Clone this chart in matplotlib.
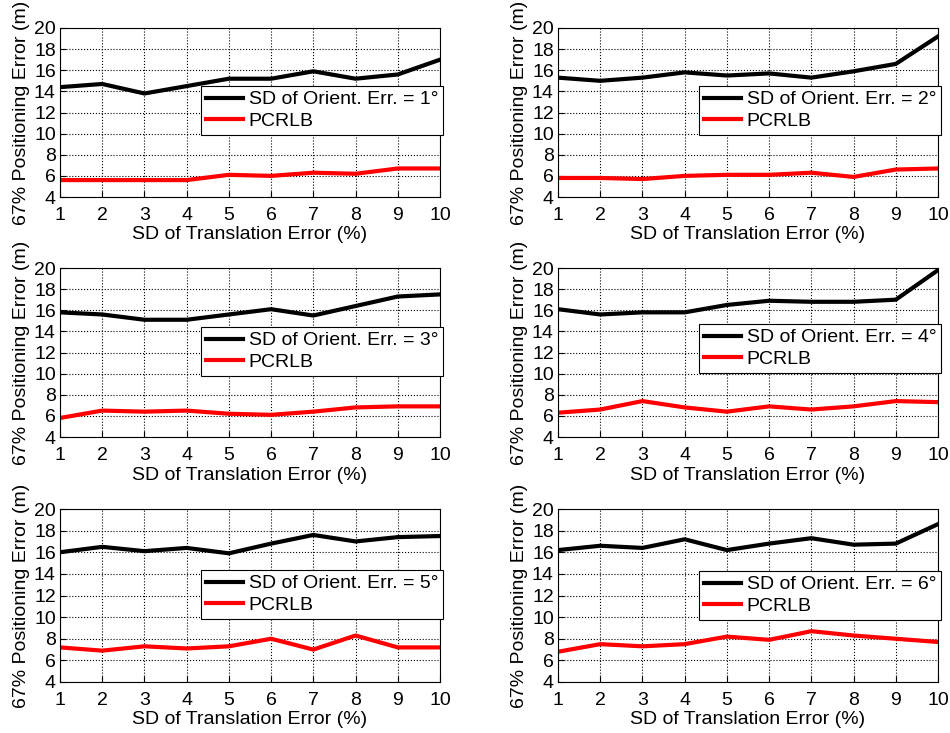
import matplotlib
matplotlib.use('Agg')
from matplotlib import pyplot as plt

plt.rcParams['font.family'] = ['Liberation Sans', 'DejaVu Sans']

# SD of translation error (%)
trans_err = [1, 2, 3, 4, 5, 6, 7, 8, 9, 10]

# SD of orientation error (deg), one panel each
orient_err = [1, 2, 3, 4, 5, 6]

# 67% positioning error (m) from the filter
err_1 = [14.4, 14.7, 13.8, 14.5, 15.2, 15.2, 15.9, 15.2, 15.6, 17.0]
err_2 = [15.3, 15.0, 15.3, 15.8, 15.5, 15.7, 15.3, 15.9, 16.6, 19.2]
err_3 = [15.8, 15.6, 15.1, 15.1, 15.6, 16.1, 15.5, 16.4, 17.3, 17.5]
err_4 = [16.1, 15.6, 15.8, 15.8, 16.5, 16.9, 16.8, 16.8, 17.0, 19.8]
err_5 = [16.0, 16.5, 16.1, 16.4, 15.9, 16.8, 17.6, 17.0, 17.4, 17.5]
err_6 = [16.2, 16.6, 16.4, 17.2, 16.2, 16.8, 17.3, 16.7, 16.8, 18.6]

# 67% positioning error (m) given by the PCRLB
pcrlb_1 = [5.6, 5.6, 5.6, 5.6, 6.1, 6.0, 6.3, 6.2, 6.7, 6.7]
pcrlb_2 = [5.8, 5.8, 5.7, 6.0, 6.1, 6.1, 6.3, 5.9, 6.6, 6.7]
pcrlb_3 = [5.8, 6.5, 6.4, 6.5, 6.2, 6.1, 6.4, 6.8, 6.9, 6.9]
pcrlb_4 = [6.3, 6.6, 7.4, 6.8, 6.4, 6.9, 6.6, 6.9, 7.4, 7.3]
pcrlb_5 = [7.2, 6.9, 7.3, 7.1, 7.3, 8.0, 7.0, 8.3, 7.2, 7.2]
pcrlb_6 = [6.8, 7.5, 7.3, 7.5, 8.2, 7.9, 8.7, 8.3, 8.0, 7.7]

errs = [err_1, err_2, err_3, err_4, err_5, err_6]
pcrlbs = [pcrlb_1, pcrlb_2, pcrlb_3, pcrlb_4, pcrlb_5, pcrlb_6]

W, H = 950, 733
fig = plt.figure(figsize=(W / 100, H / 100), dpi=100)

# axes boxes in pixels: left, top, right, bottom
boxes = [(60, 28, 440, 197), (558, 28, 938, 197),
         (60, 268, 440, 437), (558, 268, 938, 437),
         (60, 509, 440, 682), (558, 509, 938, 682)]
# upper right corner of each legend, pixels
leg_corner = [(443, 86), (941, 86), (443, 327), (941, 324), (443, 570), (941, 571)]

fs = 14
for i in range(6):
    l, t, r, b = boxes[i]
    ax = fig.add_axes([l / W, 1 - b / H, (r - l) / W, (b - t) / H])
    ax.plot(trans_err, errs[i], color='k', lw=3,
            label='SD of Orient. Err. = %d°' % orient_err[i])
    ax.plot(trans_err, pcrlbs[i], color='r', lw=3, label='PCRLB')
    ax.set_xlim(1, 10)
    ax.set_ylim(4, 20)
    ax.set_xticks(trans_err)
    ax.set_yticks(range(4, 21, 2))
    ax.grid(True, color='k', linestyle=':', linewidth=0.8)
    ax.tick_params(direction='in', labelsize=fs, length=4)
    ax.tick_params(axis='x', pad=7)
    ax.tick_params(axis='y', pad=3)
    for s in ax.spines.values():
        s.set_linewidth(0.8)
    ax.set_xlabel('SD of Translation Error (%)', fontsize=fs, labelpad=2)
    ax.set_ylabel('67% Positioning Error (m)', fontsize=fs, labelpad=3)
    lx, ly = leg_corner[i]
    leg = ax.legend(loc='upper right', bbox_to_anchor=(lx / W, 1 - ly / H),
                    bbox_transform=fig.transFigure, fontsize=fs,
                    fancybox=False, framealpha=1, edgecolor='k',
                    handlelength=1.9, handletextpad=0.3, borderpad=0.25,
                    labelspacing=0.2, borderaxespad=0)
    leg.get_frame().set_linewidth(0.8)

fig.savefig('out.png', dpi=100)
